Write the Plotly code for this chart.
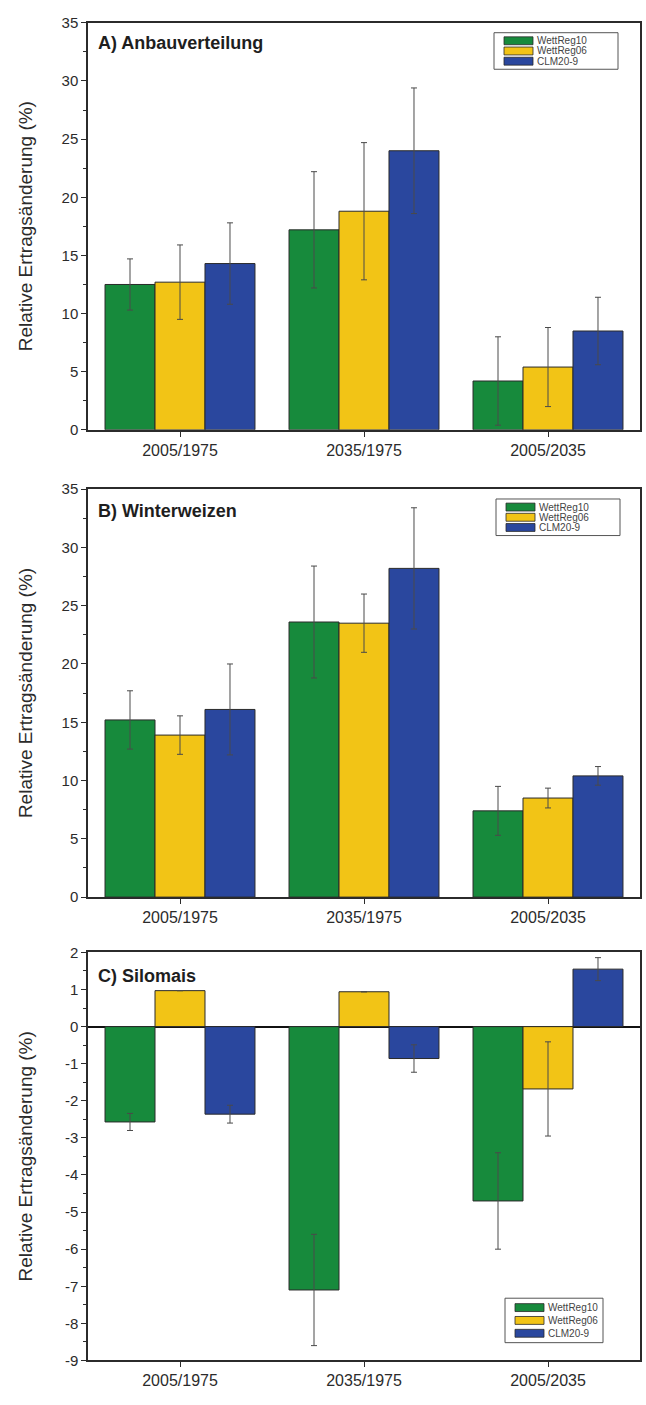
import plotly.graph_objects as go

# ---- data -----------------------------------------------------------------
categories = ["2005/1975", "2035/1975", "2005/2035"]
series_names = ["WettReg10", "WettReg06", "CLM20-9"]

# A) Anbauverteilung
anbau_wr10 = [12.5, 17.2, 4.2]
anbau_wr10_err = [2.2, 5.0, 3.8]
anbau_wr06 = [12.7, 18.8, 5.4]
anbau_wr06_err = [3.2, 5.9, 3.4]
anbau_clm = [14.3, 24.0, 8.5]
anbau_clm_err = [3.5, 5.4, 2.9]

# B) Winterweizen
weizen_wr10 = [15.2, 23.6, 7.4]
weizen_wr10_err = [2.5, 4.8, 2.1]
weizen_wr06 = [13.9, 23.5, 8.5]
weizen_wr06_err = [1.65, 2.5, 0.85]
weizen_clm = [16.1, 28.2, 10.4]
weizen_clm_err = [3.9, 5.2, 0.8]

# C) Silomais
mais_wr10 = [-2.57, -7.1, -4.7]
mais_wr10_err = [0.23, 1.5, 1.3]
mais_wr06 = [0.97, 0.94, -1.68]
mais_wr06_err = [0.0, 0.0, 1.27]
mais_clm = [-2.36, -0.86, 1.55]
mais_clm_err = [0.24, 0.37, 0.31]

# y tick values / labels (plain hyphen for negatives)
ticks_pct = [0, 5, 10, 15, 20, 25, 30, 35]
ticks_pct_labels = ["0", "5", "10", "15", "20", "25", "30", "35"]
ticks_mais = [-9, -8, -7, -6, -5, -4, -3, -2, -1, 0, 1, 2]
ticks_mais_labels = ["-9", "-8", "-7", "-6", "-5", "-4", "-3", "-2", "-1", "0", "1", "2"]

panel_titles = ["A) Anbauverteilung", "B) Winterweizen", "C) Silomais"]
y_title = "Relative Ertragsänderung (%)"

# ---- styling --------------------------------------------------------------
W, H = 646, 1405
FONT = "Liberation Sans, Arial, sans-serif"
COLORS = ["#178a3c", "#f2c416", "#2a479e"]
AXIS_COL = "#2b2b2b"
TEXT_COL = "#2b2b2b"

# plot frames in pixels: (top, bottom); shared left/right
X_LEFT, X_RIGHT = 88, 640
frames = [(14, 426), (486, 899), (955, 1368)]


def px_x(px):
    return px / W


def px_y(py):
    return 1 - py / H


panels = [
    ([anbau_wr10, anbau_wr06, anbau_clm],
     [anbau_wr10_err, anbau_wr06_err, anbau_clm_err],
     [0, 35], ticks_pct, ticks_pct_labels, 2.5),
    ([weizen_wr10, weizen_wr06, weizen_clm],
     [weizen_wr10_err, weizen_wr06_err, weizen_clm_err],
     [0, 35], ticks_pct, ticks_pct_labels, 2.5),
    ([mais_wr10, mais_wr06, mais_clm],
     [mais_wr10_err, mais_wr06_err, mais_clm_err],
     [-9, 2], ticks_mais, ticks_mais_labels, 0.5),
]

fig = go.Figure()
layout = dict(
    width=W, height=H,
    margin=dict(l=0, r=0, t=0, b=0),
    paper_bgcolor="white", plot_bgcolor="white",
    barmode="group", bargap=0.185, bargroupgap=0.0,
    showlegend=False,
    font=dict(family=FONT, color=TEXT_COL),
)
annotations = []
shapes = []

# legend boxes in pixels: (x0, x1, y0, y1)
legend_boxes = [(494, 618, 24, 61), (496, 620, 496, 533), (505, 603, 1305, 1350)]

for i, (vals, errs, yrange, tvals, ttext, minor) in enumerate(panels):
    n = "" if i == 0 else str(i + 1)
    xa, ya = "x" + n, "y" + n
    top, bottom = frames[i]
    for k in range(3):
        fig.add_trace(go.Bar(
            x=categories, y=vals[k], name=series_names[k],
            xaxis=xa, yaxis=ya,
            marker=dict(color=COLORS[k], line=dict(color="#2a2a2a", width=1)),
            error_y=dict(type="data", array=errs[k], symmetric=True,
                         color="#4a4a4a", thickness=1, width=3),
        ))
    layout["xaxis" + n] = dict(
        domain=[px_x(X_LEFT), px_x(X_RIGHT)], anchor=ya,
        range=[-0.5, 2.5], type="category",
        showline=True, linecolor=AXIS_COL, linewidth=1.5, mirror=True,
        ticks="outside", ticklen=5, tickwidth=1.2, tickcolor=AXIS_COL,
        tickfont=dict(size=16, color=TEXT_COL, family=FONT),
        showgrid=False, zeroline=False,
    )
    layout["yaxis" + n] = dict(
        domain=[px_y(bottom), px_y(top)], anchor=xa,
        range=yrange, tickmode="array", tickvals=tvals, ticktext=ttext,
        showline=True, linecolor=AXIS_COL, linewidth=1.5, mirror=True,
        ticks="outside", ticklen=5, tickwidth=1.2, tickcolor=AXIS_COL,
        minor=dict(dtick=minor, ticks="outside", ticklen=3,
                   tickcolor=AXIS_COL, tickwidth=1),
        tickfont=dict(size=15, color=TEXT_COL, family=FONT),
        showgrid=False,
        zeroline=(yrange[0] < 0), zerolinecolor="#111", zerolinewidth=1.5,
    )
    # panel label
    annotations.append(dict(
        text="<b>%s</b>" % panel_titles[i], xref="paper", yref="paper",
        x=px_x(96), y=px_y(top + 20 + 2 * i), xanchor="left", yanchor="middle",
        showarrow=False, font=dict(size=18, color="#1e1e1e", family=FONT),
    ))
    # y-axis title
    annotations.append(dict(
        text=y_title, xref="paper", yref="paper",
        x=px_x(25), y=px_y((top + bottom) / 2), xanchor="center", yanchor="middle",
        textangle=-90, showarrow=False,
        font=dict(size=19, color=TEXT_COL, family=FONT),
    ))
    # legend box with swatches
    bx0, bx1, by0, by1 = legend_boxes[i]
    shapes.append(dict(type="rect", xref="paper", yref="paper",
                       x0=px_x(bx0), x1=px_x(bx1), y0=px_y(by0), y1=px_y(by1),
                       line=dict(color="#555", width=1), fillcolor="white"))
    pitch = (by1 - by0 - 6) / 3
    for k in range(3):
        cy = by0 + 3 + pitch * (k + 0.5)
        shapes.append(dict(type="rect", xref="paper", yref="paper",
                           x0=px_x(bx0 + 10), x1=px_x(bx0 + 39),
                           y0=px_y(cy - 4), y1=px_y(cy + 4),
                           line=dict(color="#2a2a2a", width=0.8),
                           fillcolor=COLORS[k]))
        annotations.append(dict(
            text=series_names[k], xref="paper", yref="paper",
            x=px_x(bx0 + 41), y=px_y(cy), xanchor="left", yanchor="middle",
            showarrow=False, font=dict(size=10, color="#444", family=FONT),
        ))

layout["annotations"] = annotations
layout["shapes"] = shapes
fig.update_layout(**layout)
fig.write_html("out.html")
